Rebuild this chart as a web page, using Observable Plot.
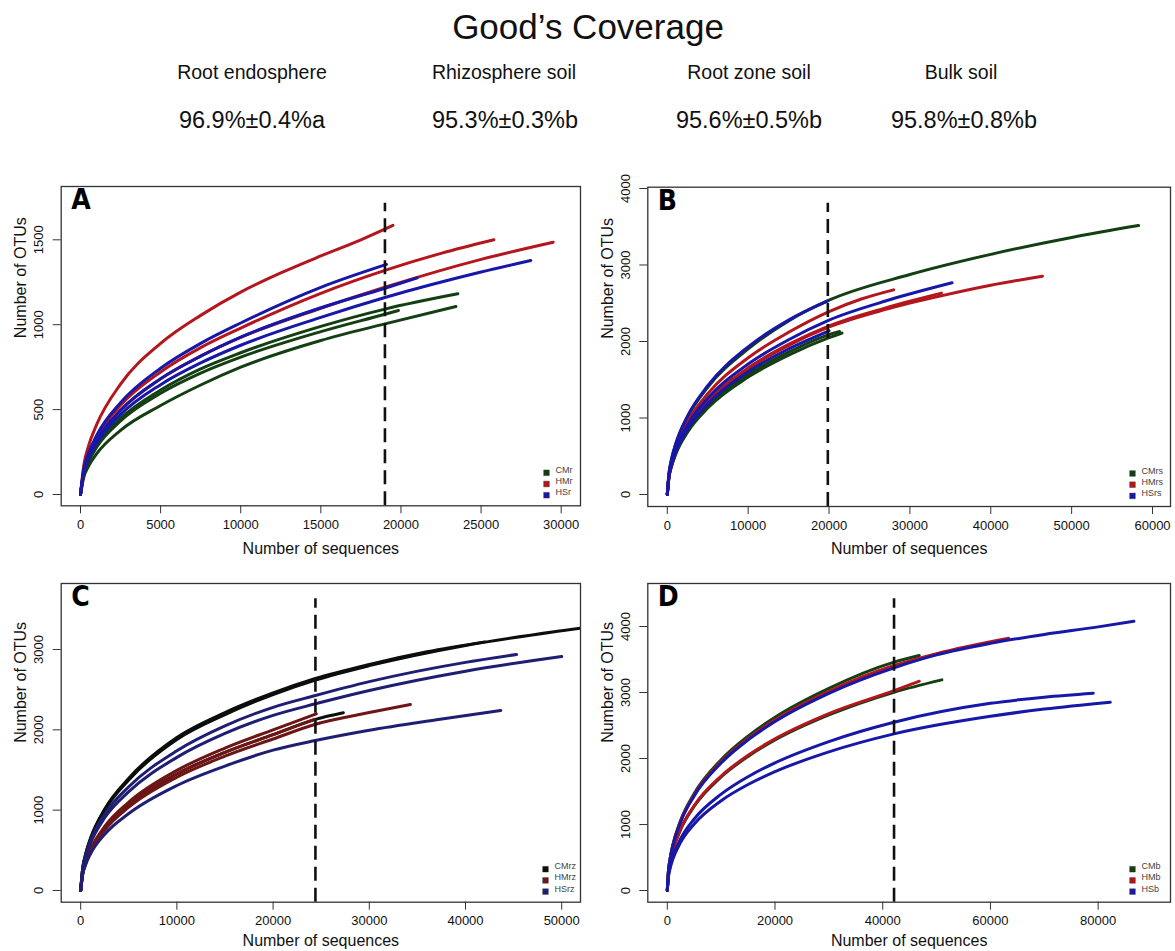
<!DOCTYPE html>
<html><head><meta charset="utf-8">
<script src="https://cdn.jsdelivr.net/npm/d3@7"></script>
<script src="https://cdn.jsdelivr.net/npm/@observablehq/plot@0.6"></script>
<style>
body{margin:0;background:#fff;font-family:"Liberation Sans",Arial,Helvetica,sans-serif;}
#page{position:relative;width:1175px;height:951px;overflow:hidden;background:#fff}
.t{position:absolute;white-space:nowrap;transform:translate(-50%,-50%);color:#111;line-height:1}
.panel{position:absolute}
</style></head><body><div id="page"></div>
<script>
// ---------- header text ----------
const title = "Good’s Coverage";
const habitats = ["Root endosphere", "Rhizosphere soil", "Root zone soil", "Bulk soil"];
const coverage = ["96.9%±0.4%a", "95.3%±0.3%b", "95.6%±0.5%b", "95.8%±0.8%b"];

// ---------- axis ticks ----------
const xTicksA = [0, 5000, 10000, 15000, 20000, 25000, 30000];
const yTicksA = [0, 500, 1000, 1500];
const xTicksB = [0, 10000, 20000, 30000, 40000, 50000, 60000];
const yTicksB = [0, 1000, 2000, 3000, 4000];
const xTicksC = [0, 10000, 20000, 30000, 40000, 50000];
const yTicksC = [0, 1000, 2000, 3000];
const xTicksD = [0, 20000, 40000, 60000, 80000];
const yTicksD = [0, 1000, 2000, 3000, 4000];

// ---------- legend labels ----------
const labelsA = ["CMr", "HMr", "HSr"];
const labelsB = ["CMrs", "HMrs", "HSrs"];
const labelsC = ["CMrz", "HMrz", "HSrz"];
const labelsD = ["CMb", "HMb", "HSb"];

// ---------- rarefaction cut-off (dashed line) ----------
const cutX = [19000, 19850, 24400, 42100];
const cutTop = [1716, 3808, 3631, 4420];

// ---------- Panel A: root endosphere ----------
const A_CM = [
  [[0,0],[200,121],[500,200],[1000,286],[2500,447],[5000,615],[7500,740],[10000,835],[15000,990],[19000,1092],[23550,1182]],
  [[0,0],[200,100],[500,166],[1000,239],[2500,378],[5000,524],[7500,645],[10000,750],[15000,907],[19000,1005],[23430,1107]],
  [[0,0],[200,117],[500,193],[1000,277],[2500,433],[5000,596],[7500,715],[10000,809],[15000,959],[19000,1062],[19840,1084]]
];
const A_HM = [
  [[0,0],[200,170],[500,285],[1000,410],[2500,650],[5000,890],[7500,1055],[10000,1192],[12500,1305],[15000,1405],[17500,1500],[19500,1585]],
  [[0,0],[200,140],[500,232],[1000,335],[2500,525],[5000,722],[7500,865],[10000,980],[15000,1185],[19000,1320],[22500,1420],[25800,1500]],
  [[0,0],[200,134],[500,221],[1000,317],[2500,495],[5000,681],[7500,815],[10000,925],[15000,1097],[19000,1221],[25000,1385],[29500,1486]]
];
const A_HS = [
  [[0,0],[200,146],[500,241],[1000,346],[2500,541],[5000,744],[7500,890],[10000,1010],[15000,1220],[19100,1355]],
  [[0,0],[200,134],[500,221],[1000,317],[2500,496],[5000,682],[7500,815],[10000,927],[15000,1100],[19000,1215],[21000,1275]],
  [[0,0],[200,127],[500,210],[1000,301],[2500,470],[5000,647],[7500,775],[10000,879],[15000,1043],[19000,1160],[25000,1310],[28100,1378]]
];

// ---------- Panel B: rhizosphere soil ----------
const B_CM = [
  [[0,0],[200,267],[500,444],[1000,639],[2500,1010],[5000,1402],[10000,1903],[15000,2270],[20000,2540],[30000,2875],[40000,3139],[50000,3360],[58270,3516]],
  [[0,0],[200,220],[500,366],[1000,527],[2500,833],[5000,1155],[10000,1568],[15000,1860],[20000,2090],[21300,2130]],
  [[0,0],[200,215],[500,358],[1000,516],[2500,815],[5000,1130],[10000,1535],[15000,1822],[20000,2050],[21600,2110]]
];
const B_HM = [
  [[0,0],[200,251],[500,417],[1000,601],[2500,950],[5000,1317],[10000,1788],[15000,2120],[20000,2391],[24000,2555],[27990,2675]],
  [[0,0],[200,231],[500,383],[1000,552],[2500,873],[5000,1210],[10000,1643],[15000,1948],[20000,2190],[27000,2420],[34000,2600],[40000,2735],[46390,2854]],
  [[0,0],[200,233],[500,386],[1000,556],[2500,880],[5000,1220],[10000,1655],[15000,1962],[20000,2205],[27000,2440],[33900,2632]]
];
const B_HS = [
  [[0,0],[200,272],[500,452],[1000,650],[2500,1025],[5000,1422],[10000,1930],[15000,2280],[19850,2530]],
  [[0,0],[200,240],[500,398],[1000,574],[2500,907],[5000,1257],[10000,1706],[15000,2023],[20000,2280],[27500,2545],[35210,2767]],
  [[0,0],[200,226],[500,375],[1000,540],[2500,853],[5000,1182],[10000,1605],[15000,1903],[20000,2140]]
];

// ---------- Panel C: root zone soil ----------
const C_CM = [
  [[0,0],[200,265],[500,440],[1000,633],[2500,1000],[5000,1377],[10000,1880],[15000,2190],[20000,2440],[24400,2620],[30000,2799],[40000,3051],[50000,3235],[54000,3300]],
  [[0,0],[200,270],[500,447],[1000,643],[2500,1015],[5000,1398],[10000,1905],[15000,2215],[20000,2460],[24400,2640],[30000,2815],[36000,2972],[42000,3095]],
  [[0,0],[200,205],[500,340],[1000,490],[2500,775],[5000,1068],[10000,1450],[15000,1720],[20000,1940],[24400,2130],[27300,2212]]
];
const C_HM = [
  [[0,0],[200,211],[500,350],[1000,505],[2500,798],[5000,1100],[10000,1495],[15000,1773],[20000,2000],[24490,2199]],
  [[0,0],[200,200],[500,331],[1000,477],[2500,753],[5000,1037],[10000,1410],[15000,1672],[20000,1886],[24400,2070],[30000,2215],[34270,2315]],
  [[0,0],[200,205],[500,340],[1000,490],[2500,774],[5000,1067],[10000,1450],[15000,1720],[20000,1940],[24300,2130]]
];
const C_HS = [
  [[0,0],[200,260],[500,428],[1000,610],[2500,950],[5000,1291],[10000,1740],[15000,2050],[20000,2280],[24400,2427],[30000,2600],[40000,2840],[45300,2938]],
  [[0,0],[200,247],[500,407],[1000,580],[2500,905],[5000,1230],[10000,1657],[15000,1955],[20000,2180],[24400,2324],[30000,2490],[40000,2730],[50000,2913]],
  [[0,0],[200,192],[500,315],[1000,450],[2500,700],[5000,958],[10000,1307],[15000,1549],[20000,1747],[24400,1867],[30000,1995],[37000,2125],[43660,2241]]
];

// ---------- Panel D: bulk soil ----------
const D_CM = [
  [[0,0],[200,288],[500,476],[1000,683],[2500,1069],[5000,1471],[10000,1982],[15000,2340],[20000,2625],[30000,3063],[42100,3460],[46780,3561]],
  [[0,0],[200,250],[500,413],[1000,593],[2500,929],[5000,1277],[10000,1721],[15000,2032],[20000,2280],[30000,2660],[42100,3005],[50980,3192]]
];
const D_HM = [
  [[0,0],[200,252],[500,417],[1000,598],[2500,937],[5000,1288],[10000,1735],[15000,2049],[20000,2299],[30000,2682],[42100,3030],[46780,3172]],
  [[0,0],[200,283],[500,469],[1000,673],[2500,1054],[5000,1449],[10000,1952],[15000,2306],[20000,2587],[30000,3018],[42100,3409],[50000,3590],[63360,3823]]
];
const D_HS = [
  [[0,0],[200,280],[500,464],[1000,666],[2500,1043],[5000,1434],[10000,1932],[15000,2282],[20000,2560],[30000,2987],[42100,3374],[50000,3570],[60000,3745],[70000,3880],[80000,3995],[86640,4081]],
  [[0,0],[200,212],[500,351],[1000,503],[2500,788],[5000,1084],[10000,1460],[15000,1725],[20000,1935],[30000,2257],[42100,2550],[60000,2836],[70000,2930],[79090,2990]],
  [[0,0],[200,197],[500,327],[1000,468],[2500,734],[5000,1009],[10000,1360],[15000,1606],[20000,1801],[30000,2101],[42100,2374],[60000,2640],[70000,2750],[82240,2854]]
];

// ---------- colours ----------
const colorsStd = ["#133f13", "#b3161c", "#1717a8"];
const colorsC = ["#0b0f0b", "#6e1515", "#1e1e74"];

// ---------- build ----------
const page = document.getElementById("page");
function addText(str, x, y, size) {
  const d = document.createElement("div");
  d.className = "t";
  d.textContent = str;
  d.style.left = x + "px";
  d.style.top = y + "px";
  d.style.fontSize = size + "px";
  page.appendChild(d);
}
addText(title, 588, 26, 35);
const colX = [252, 504, 749, 961];
const valX = [252, 505, 749, 964];
habitats.forEach((h, i) => addText(h, colX[i], 73, 19.5));
coverage.forEach((v, i) => addText(v, valX[i], 121, 23.5));

function panel(o) {
  const rows = [];
  o.groups.forEach((grp, gi) => grp.forEach((c, ci) => c.forEach(([x, y]) => rows.push({x, y, g: gi, id: gi + "-" + ci}))));
  const legendMarks = o.labels.flatMap((lab, i) => [
    Plot.dot([lab], {frameAnchor: "bottom-right", dx: o.sqDx, dy: -33 + 11.2 * i, symbol: "square", r: 3.2, fill: o.colors[i], stroke: "#333", strokeWidth: 0.4}),
    Plot.text([lab], {frameAnchor: "bottom-right", dx: o.txDx, dy: -33 + 11.2 * i, text: d => d, textAnchor: "start", fontSize: 9, fill: "#444"})
  ]);
  const fig = Plot.plot({
    width: o.width, height: o.height,
    marginLeft: o.ml, marginRight: o.mr, marginTop: o.mt, marginBottom: o.mb,
    style: {fontFamily: '"Liberation Sans", Arial, sans-serif', background: "transparent"},
    x: {domain: o.xDomain},
    y: {domain: o.yDomain},
    marks: [
      Plot.line(rows, {x: "x", y: "y", z: "id", stroke: d => o.colors[d.g], strokeWidth: 3, curve: "monotone-x", clip: true}),
      Plot.ruleX([o.cutX], {y1: o.yDomain[0], y2: o.cutTop, stroke: "#111", strokeWidth: 2.6, strokeDasharray: "14,7"}),
      Plot.frame({stroke: "#333", strokeWidth: 1.3}),
      Plot.axisX({ticks: o.xTicks, tickSize: 8, tickPadding: 6, tickFormat: d => String(d), fontSize: 13, label: null, stroke: "#333", color: "#111"}),
      Plot.axisY({ticks: o.yTicks, tickSize: 8, tickPadding: 10, tickRotate: -90, tickFormat: d => String(d), fontSize: 13, label: null, stroke: "#333", color: "#111"}),
      Plot.text(["Number of sequences"], {frameAnchor: "bottom", dy: o.xLabDy, text: d => d, fontSize: 16, lineAnchor: "middle", fill: "#111"}),
      Plot.text(["Number of OTUs"], {frameAnchor: "left", dx: -40, dy: o.yLabDy, rotate: -90, text: d => d, fontSize: 16, lineAnchor: "middle", fill: "#111"}),
      Plot.text([o.letter], {frameAnchor: "top-left", dx: 10, dy: 3, text: d => d, fontSize: 28, fontWeight: "bold", fontFamily: '"DejaVu Sans Condensed", "Liberation Sans Narrow", Arial, sans-serif', textAnchor: "start", lineAnchor: "top", fill: "#000"}),
      ...legendMarks
    ]
  });
  fig.classList.add("panel");
  fig.style.left = o.left + "px";
  fig.style.top = o.top + "px";
  page.appendChild(fig);
}

panel({groups: [A_CM, A_HM, A_HS], colors: colorsStd, labels: labelsA, letter: "A",
  left: 0, top: 160, width: 587, height: 420, ml: 60.7, mr: 7, mt: 26, mb: 74.7,
  xDomain: [-1204, 31205], yDomain: [-66.5, 1814], xTicks: xTicksA, yTicks: yTicksA,
  cutX: cutX[0], cutTop: cutTop[0], sqDx: -34, txDx: -25, xLabDy: 42.7, yLabDy: -8});
panel({groups: [B_CM, B_HM, B_HS], colors: colorsStd, labels: labelsB, letter: "B",
  left: 587, top: 160, width: 588, height: 420, ml: 60.3, mr: 5, mt: 26.7, mb: 74,
  xDomain: [-2411, 62223], yDomain: [-157, 4017], xTicks: xTicksB, yTicks: yTicksB,
  cutX: cutX[1], cutTop: cutTop[1], sqDx: -38, txDx: -29, xLabDy: 42.7, yLabDy: -8});
panel({groups: [C_CM, C_HM, C_HS], colors: colorsC, labels: labelsC, letter: "C",
  left: 0, top: 580, width: 587, height: 371, ml: 60.7, mr: 7, mt: 3, mb: 49.3,
  xDomain: [-2025, 51953], yDomain: [-146, 3822], xTicks: xTicksC, yTicks: yTicksC,
  cutX: cutX[2], cutTop: cutTop[2], sqDx: -35, txDx: -26, xLabDy: 39, yLabDy: 0});
panel({groups: [D_CM, D_HM, D_HS], colors: colorsStd, labels: labelsD, letter: "D",
  left: 587, top: 580, width: 588, height: 371, ml: 60.3, mr: 5, mt: 3, mb: 49.3,
  xDomain: [-3620, 93430], yDomain: [-177, 4652], xTicks: xTicksD, yTicks: yTicksD,
  cutX: cutX[3], cutTop: cutTop[3], sqDx: -38, txDx: -29, xLabDy: 39, yLabDy: 0});
</script></body></html>
